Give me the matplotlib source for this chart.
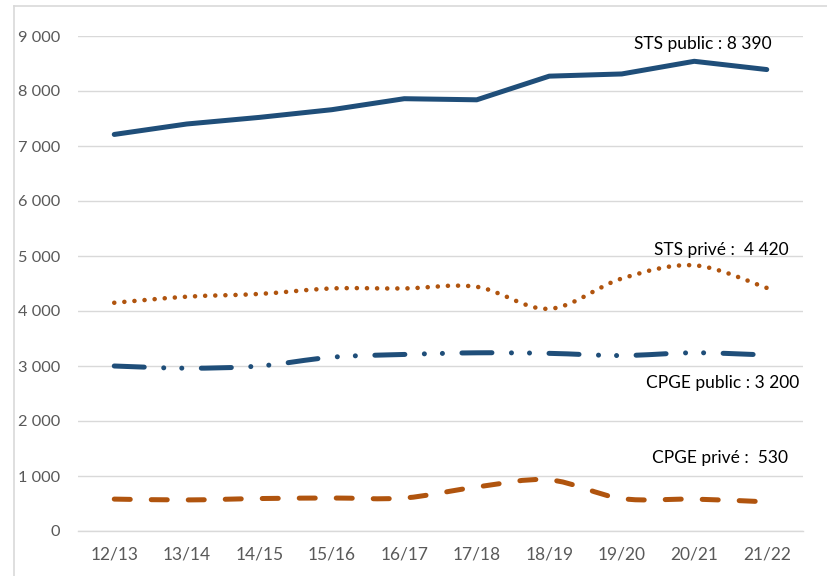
"""Effectifs STS / CPGE, public et privé, 2012/13 à 2021/22."""

import matplotlib

matplotlib.use("Agg")

import matplotlib.pyplot as plt
import numpy as np
from matplotlib.lines import Line2D
from matplotlib.path import Path
from matplotlib.patches import PathPatch
from matplotlib.ticker import FuncFormatter

years = ["12/13", "13/14", "14/15", "15/16", "16/17", "17/18", "18/19", "19/20", "20/21", "21/22"]
sts_public = [7210, 7400, 7520, 7660, 7860, 7840, 8270, 8310, 8540, 8390]
sts_prive = [4150, 4260, 4310, 4410, 4410, 4440, 4040, 4590, 4830, 4420]
cpge_public = [3000, 2960, 3000, 3160, 3210, 3240, 3230, 3190, 3240, 3200]
cpge_prive = [580, 565, 590, 600, 600, 800, 930, 590, 580, 530]

BLUE = "#1F4E79"
BROWN = "#B0540E"
GREY = "#595959"
FONT = ["Lato", "DejaVu Sans"]


def smooth_path(xs, ys):
    """Bezier path through the points, like Excel's smoothed line."""
    pts = np.column_stack([xs, ys]).astype(float)
    verts = [pts[0]]
    codes = [Path.MOVETO]
    n = len(pts)
    for i in range(n - 1):
        p0 = pts[max(i - 1, 0)]
        p1 = pts[i]
        p2 = pts[i + 1]
        p3 = pts[min(i + 2, n - 1)]
        c1 = p1 + (p2 - p0) / 6.0
        c2 = p2 - (p3 - p1) / 6.0
        verts += [c1, c2, p2]
        codes += [Path.CURVE4] * 3
    return Path(verts, codes)


fig = plt.figure(figsize=(8.27, 5.76), dpi=100)
ax = fig.add_axes([78 / 827, 1 - 531 / 576, 725 / 827, 495 / 576])

x = np.arange(len(years))
ax.plot(x, sts_public, color=BLUE, lw=3.6, solid_capstyle="round", solid_joinstyle="round")

for values, style in (
    (sts_prive, dict(color=BROWN, lw=3.3, linestyle=(0, (0.01, 2.2)))),
    (cpge_public, dict(color=BLUE, lw=3.6, linestyle=(0, (6.0, 3.9, 0.01, 3.6, 0.01, 3.9)))),
    (cpge_prive, dict(color=BROWN, lw=3.6, linestyle=(0, (3.2, 4.2)))),
):
    patch = PathPatch(smooth_path(x, values), facecolor="none", edgecolor=style["color"],
                      lw=style["lw"], linestyle=style["linestyle"], capstyle="round",
                      joinstyle="round")
    ax.add_patch(patch)

ax.set_xlim(-0.5, len(years) - 0.5)
ax.set_ylim(0, 9000)
ax.set_yticks(np.arange(0, 9001, 1000))
ax.yaxis.set_major_formatter(FuncFormatter(lambda v, _: f"{int(v):,}".replace(",", " ")))
ax.set_xticks(x)
ax.set_xticklabels(years)
ax.grid(axis="y", color="#D9D9D9", lw=1.0)
ax.set_axisbelow(True)
for side in ("left", "right", "top"):
    ax.spines[side].set_visible(False)
ax.spines["bottom"].set_color("#D9D9D9")
ax.spines["bottom"].set_linewidth(1.0)
ax.tick_params(axis="both", length=0, labelcolor=GREY, labelsize=12.5)
ax.tick_params(axis="y", pad=13, labelsize=11.8)
ax.tick_params(axis="x", pad=11)
for label in ax.get_xticklabels() + ax.get_yticklabels():
    label.set_family(FONT)

notes = [
    (8.12, 8850, "STS public : 8 390", "center"),
    (9.3, 5100, "STS privé :  4 420", "right"),
    (9.45, 2690, "CPGE public : 3 200", "right"),
    (9.3, 1330, "CPGE privé :  530", "right"),
]
for nx, ny, text, ha in notes:
    ax.text(nx, ny, text, ha=ha, va="center", fontsize=12.5, color="black", family=FONT)

# chart frame, only the left and top edges fall inside the picture
fig.add_artist(Line2D([14 / 827, 14 / 827], [0, 1 - 6 / 576], color="#D9D9D9", lw=1.2))
fig.add_artist(Line2D([14 / 827, 1], [1 - 6 / 576, 1 - 6 / 576], color="#D9D9D9", lw=1.2))

fig.savefig("out.png", dpi=100)
